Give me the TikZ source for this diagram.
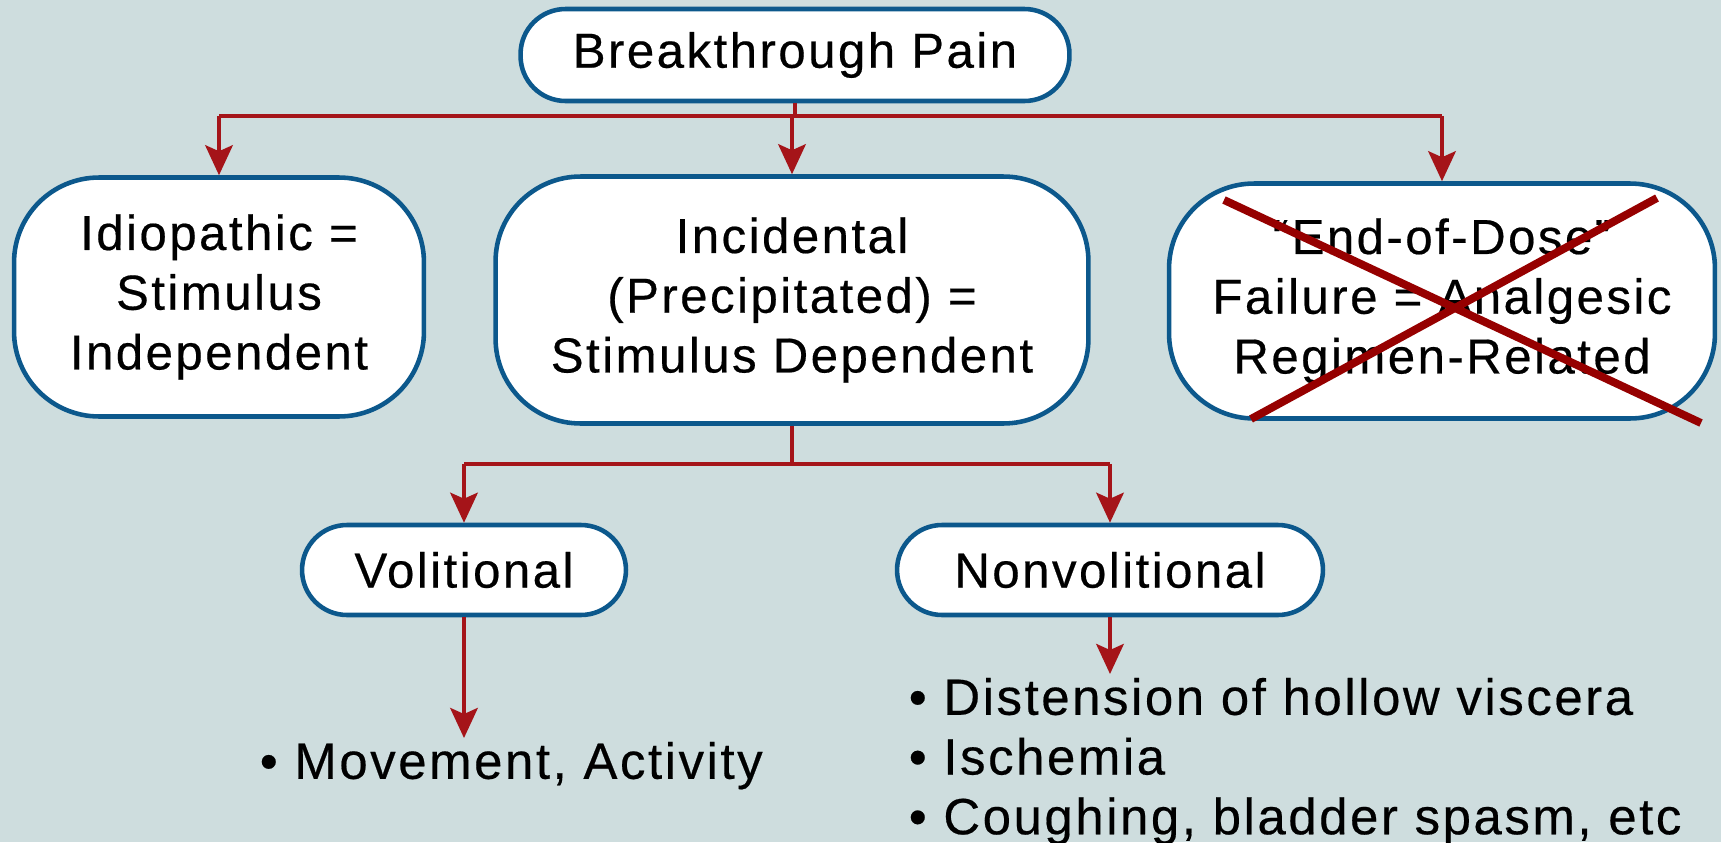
\documentclass[tikz,border=0pt]{standalone}
\usepackage{fontspec}
\setmainfont{Liberation Sans}
\newfontfamily\boxfont{Liberation Sans}[LetterSpace=5,FakeBold=0.4]
\newfontfamily\listfont{Liberation Sans}[LetterSpace=5,FakeBold=0.4]
\usetikzlibrary{arrows.meta}
\definecolor{bgcol}{RGB}{206,221,222}
\definecolor{boxblue}{RGB}{12,88,140}
\definecolor{arrred}{RGB}{165,20,25}
\definecolor{crossred}{RGB}{150,0,0}
\begin{document}
\begin{tikzpicture}[x=0.02cm,y=-0.02cm,
    pbox/.style={draw=boxblue,line width=2.6pt,fill=white,rounded corners=1.7cm,
      align=center,inner sep=0pt,font=\boxfont\fontsize{28}{34}\selectfont},
    pill/.style={pbox,rounded corners=0.9cm},
    listtxt/.style={align=left,inner sep=2pt,font=\listfont\fontsize{29}{34}\selectfont},
    conn/.style={draw=arrred,line width=2.3pt},
    arr/.style={conn,-{Stealth[length=0.6cm,width=0.55cm,inset=0.12cm]}}]
  \useasboundingbox (0,0) rectangle (1721,842);
  \fill[bgcol] (0,0) rectangle (1721,842);
  % boxes
  \node[pill,minimum width=10.98cm,minimum height=1.84cm] (bp) at (795,55) {Breakthrough Pain};
  \node[pbox,minimum width=8.2cm,minimum height=4.78cm] (idio) at (219,297) {Idiopathic =\\Stimulus\\Independent};
  \node[pbox,minimum width=11.86cm,minimum height=4.94cm] (inc) at (792,300) {Incidental\\(Precipitated) =\\Stimulus Dependent};
  \node[pbox,minimum width=10.92cm,minimum height=4.7cm] (eod) at (1442,301) {“End-of-Dose”\\Failure = Analgesic\\Regimen-Related};
  \node[pill,minimum width=6.48cm,minimum height=1.8cm] (vol) at (464,570) {Volitional};
  \node[pill,minimum width=8.52cm,minimum height=1.8cm] (nonvol) at (1110,570) {Nonvolitional};
  \node[listtxt,anchor=north west] (move) at (256,738) {• Movement, Activity};
  \node[listtxt,anchor=north west] (nvlist) at (905,674) {• Distension of hollow viscera\\• Ischemia\\• Coughing, bladder spasm, etc};
  % connectors
  \draw[conn] (bp.south) -- ++(0,13) coordinate (top);
  \draw[conn] (top -| idio.north) -- (top -| eod.north);
  \foreach \n in {idio,inc,eod}
    \draw[arr] (top -| \n.north) -- (\n.north);
  \draw[conn] (inc.south) -- ++(0,38) coordinate (mid);
  \draw[conn] (mid -| vol.north) -- (mid -| nonvol.north);
  \foreach \n in {vol,nonvol}
    \draw[arr] (mid -| \n.north) -- (\n.north);
  \draw[arr] (vol.south) -- (vol.south |- move.north);
  \draw[arr] (nonvol.south) -- (nonvol.south |- nvlist.north);
  % cross over end-of-dose
  \draw[crossred,line width=4.5pt] (1224,200) -- (1701,423);
  \draw[crossred,line width=4.5pt] (1657,198) -- (1251,419);
\end{tikzpicture}
\end{document}
